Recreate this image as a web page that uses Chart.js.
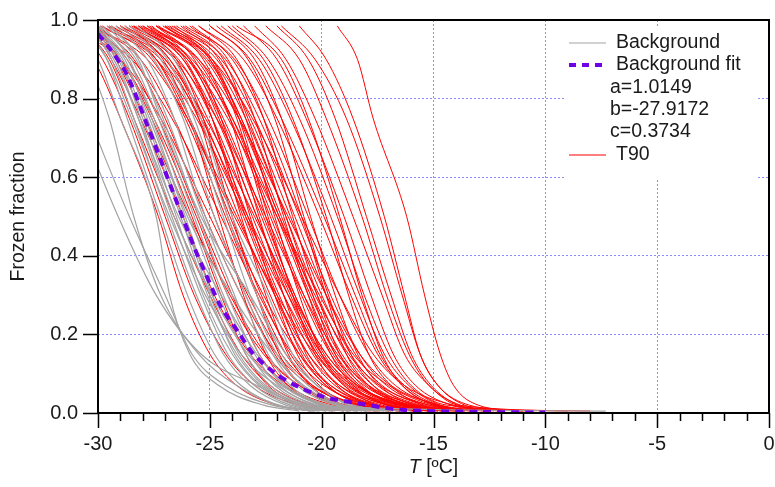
<!DOCTYPE html>
<html>
<head>
<meta charset="utf-8">
<script src="https://cdn.jsdelivr.net/npm/chart.js@4.4.1/dist/chart.umd.min.js"></script>
<style>
  html, body { margin: 0; padding: 0; background: #fff; }
  #wrap { width: 775px; height: 487px; }
</style>
</head>
<body>
<div id="wrap"><canvas id="frozen"></canvas></div>
<script>
'use strict';

// frozen fraction levels at which every curve's temperature was read
const fracLevels = [0.985, 0.9, 0.75, 0.5, 0.3, 0.15, 0.07, 0.02, 0.005];

// T90 samples (temperature in ºC at each level above)
const redCurves = [
    [-31.5, -30.2, -29.0, -27.3, -26.2, -25.0, -23.8, -22.0, -20.5],
    [-31.0, -29.8, -28.6, -27.0, -25.7, -24.3, -23.0, -21.0, -19.5],
    [-30.8, -29.5, -28.4, -26.6, -25.0, -23.6, -22.3, -20.5, -18.8],
    [-30.3, -29.4, -28.1, -26.2, -24.8, -23.2, -21.7, -19.8, -18.0],
    [-30.5, -29.0, -27.6, -25.8, -24.5, -23.4, -22.4, -20.8, -19.0],
    [-30.0, -29.2, -27.9, -25.9, -24.1, -22.5, -21.0, -19.2, -17.6],
    [-30.2, -28.7, -27.3, -25.5, -24.0, -22.8, -21.5, -19.5, -17.5],
    [-31.5, -29.0, -27.2, -25.0, -23.3, -21.8, -20.4, -18.2, -16.2],
    [-30.3, -28.1, -26.6, -24.8, -23.4, -22.1, -20.9, -19.0, -17.0],
    [-28.8, -27.1, -25.9, -24.6, -23.5, -22.5, -21.5, -20.0, -18.4],
    [-31.0, -28.5, -26.7, -24.5, -22.8, -21.3, -19.9, -17.7, -15.7],
    [-29.8, -27.6, -26.1, -24.3, -22.9, -21.6, -20.4, -18.5, -16.5],
    [-29.6, -27.4, -25.9, -24.1, -22.7, -21.4, -20.2, -18.3, -16.3],
    [-28.2, -26.5, -25.3, -24.0, -22.9, -21.9, -20.9, -19.4, -17.8],
    [-30.3, -27.8, -26.0, -23.8, -22.1, -20.6, -19.2, -17.0, -15.0],
    [-29.2, -27.0, -25.5, -23.7, -22.3, -21.0, -19.8, -17.9, -15.9],
    [-27.8, -26.1, -24.9, -23.6, -22.5, -21.5, -20.5, -19.0, -17.4],
    [-29.0, -26.8, -25.3, -23.5, -22.1, -20.8, -19.6, -17.7, -15.7],
    [-29.9, -27.4, -25.6, -23.4, -21.7, -20.2, -18.8, -16.6, -14.6],
    [-28.8, -26.6, -25.1, -23.3, -21.9, -20.6, -19.4, -17.5, -15.5],
    [-27.4, -25.7, -24.5, -23.2, -22.1, -21.1, -20.1, -18.6, -17.0],
    [-28.6, -26.4, -24.9, -23.1, -21.7, -20.4, -19.2, -17.3, -15.3],
    [-29.5, -27.0, -25.2, -23.0, -21.3, -19.8, -18.4, -16.2, -14.2],
    [-28.4, -26.2, -24.7, -22.9, -21.5, -20.2, -19.0, -17.1, -15.1],
    [-27.0, -25.3, -24.1, -22.8, -21.7, -20.7, -19.7, -18.2, -16.6],
    [-28.2, -26.0, -24.5, -22.7, -21.3, -20.0, -18.8, -16.9, -14.9],
    [-28.1, -25.9, -24.4, -22.6, -21.2, -19.9, -18.7, -16.8, -14.8],
    [-29.0, -26.5, -24.7, -22.5, -20.8, -19.3, -17.9, -15.7, -13.7],
    [-26.6, -24.9, -23.7, -22.4, -21.3, -20.3, -19.3, -17.8, -16.2],
    [-27.8, -25.6, -24.1, -22.3, -20.9, -19.6, -18.4, -16.5, -14.5],
    [-27.7, -25.5, -24.0, -22.2, -20.8, -19.5, -18.3, -16.4, -14.4],
    [-26.3, -24.6, -23.4, -22.1, -21.0, -20.0, -19.0, -17.5, -15.9],
    [-28.5, -26.0, -24.2, -22.0, -20.3, -18.8, -17.4, -15.2, -13.2],
    [-27.4, -25.2, -23.7, -21.9, -20.5, -19.2, -18.0, -16.1, -14.1],
    [-27.3, -25.1, -23.6, -21.8, -20.4, -19.1, -17.9, -16.0, -14.0],
    [-25.9, -24.2, -23.0, -21.7, -20.6, -19.6, -18.6, -17.1, -15.5],
    [-27.1, -24.9, -23.4, -21.6, -20.2, -18.9, -17.7, -15.8, -13.8],
    [-28.0, -25.5, -23.7, -21.5, -19.8, -18.3, -16.9, -14.7, -12.7],
    [-26.9, -24.7, -23.2, -21.4, -20.0, -18.7, -17.5, -15.6, -13.6],
    [-25.5, -23.8, -22.6, -21.3, -20.2, -19.2, -18.2, -16.7, -15.1],
    [-26.7, -24.5, -23.0, -21.2, -19.8, -18.5, -17.3, -15.4, -13.4],
    [-26.5, -24.3, -22.8, -21.0, -19.6, -18.3, -17.1, -15.2, -13.2],
    [-27.4, -24.9, -23.1, -20.9, -19.2, -17.7, -16.3, -14.1, -12.1],
    [-25.0, -23.3, -22.1, -20.8, -19.7, -18.7, -17.7, -16.2, -14.6],
    [-26.1, -23.9, -22.4, -20.6, -19.2, -17.9, -16.7, -14.8, -12.8],
    [-24.7, -23.0, -21.8, -20.5, -19.4, -18.4, -17.4, -15.9, -14.3],
    [-25.5, -23.5, -22.0, -20.1, -18.7, -17.5, -16.4, -15.0, -13.3],
    [-25.0, -23.2, -21.8, -19.9, -18.5, -17.4, -16.3, -14.8, -13.2],
    [-24.5, -22.8, -21.4, -19.6, -18.3, -17.2, -16.1, -14.7, -13.0],
    [-24.0, -22.4, -21.0, -19.3, -18.1, -17.0, -16.0, -14.4, -9.0],
    [-23.5, -22.0, -20.7, -19.0, -17.8, -16.8, -15.8, -14.2, -12.5],
    [-23.0, -21.6, -20.3, -18.6, -17.3, -16.3, -15.2, -13.9, -8.0],
    [-22.5, -21.0, -19.8, -18.2, -17.1, -16.1, -15.2, -13.8, -12.3],
    [-21.8, -20.3, -18.9, -17.4, -16.4, -15.6, -14.8, -13.4, -11.0],
    [-21.0, -19.8, -18.6, -17.2, -16.3, -15.6, -14.8, -13.6, -12.0],
    [-19.3, -18.4, -17.7, -16.2, -15.4, -14.7, -14.1, -13.0, -11.0],
    [-29.4, -27.2, -25.4, -23.3, -21.5, -20.0, -18.5, -16.3, -14.0],
    [-28.6, -26.8, -25.5, -24.2, -22.6, -21.0, -19.6, -17.6, -15.6],
    [-28.0, -25.8, -24.0, -22.0, -20.6, -19.4, -18.1, -16.0, -13.8],
    [-27.0, -25.0, -23.6, -21.9, -20.1, -18.6, -17.0, -15.0, -12.5],
    [-26.2, -24.4, -23.3, -21.6, -20.4, -19.4, -18.3, -16.5, -14.6],
    [-29.0, -27.4, -26.0, -23.9, -22.0, -20.3, -18.9, -17.0, -15.2],
    [-27.6, -25.9, -24.6, -22.9, -21.4, -20.1, -18.6, -16.4, -10.5],
    [-25.8, -24.0, -22.6, -20.9, -19.8, -18.9, -17.9, -16.4, -14.8],
    [-24.2, -22.6, -21.3, -19.8, -18.8, -17.9, -16.9, -15.5, -13.8],
    [-23.8, -21.8, -20.6, -19.2, -18.2, -17.3, -16.4, -14.9, -13.1],
    [-22.0, -20.6, -19.4, -18.0, -16.9, -16.0, -15.1, -13.9, -12.6],
    [-30.0, -28.4, -27.0, -25.2, -23.6, -22.0, -20.5, -18.4, -16.5],
    [-28.4, -26.2, -24.9, -23.4, -22.0, -20.9, -19.8, -18.0, -16.2],
    [-26.8, -25.0, -23.8, -22.5, -21.2, -19.8, -18.4, -16.2, -13.6],
    [-31.0, -29.0, -27.5, -25.6, -24.2, -22.6, -21.0, -18.9, -16.9]
];

// Background samples
const grayCurves = [
    [-33.0, -32.0, -30.9, -29.1, -27.4, -25.4, -22.9, -21.0, -19.8],
    [-32.5, -31.5, -30.4, -28.6, -27.0, -25.8, -24.3, -22.2, -20.5],
    [-31.0, -30.0, -29.0, -27.4, -26.8, -25.9, -24.6, -22.6, -21.0],
    [-30.6, -29.6, -28.7, -27.2, -26.0, -24.8, -23.6, -21.9, -20.3],
    [-30.4, -29.4, -28.4, -26.9, -25.6, -24.4, -23.2, -21.6, -20.1],
    [-30.3, -29.2, -28.2, -26.7, -25.4, -24.2, -23.0, -21.4, -19.8],
    [-30.2, -29.1, -28.0, -26.5, -25.3, -24.0, -22.8, -21.2, -19.6],
    [-30.1, -29.0, -27.9, -26.3, -25.1, -23.8, -22.6, -21.0, -19.4],
    [-30.0, -28.9, -27.7, -26.1, -24.9, -23.7, -22.5, -20.8, -19.0],
    [-30.0, -28.7, -27.5, -25.9, -24.6, -23.4, -22.3, -20.6, -18.8],
    [-29.8, -28.5, -27.3, -25.7, -24.4, -23.2, -22.1, -20.4, -18.5],
    [-29.6, -28.3, -27.1, -25.5, -24.2, -23.0, -21.9, -20.2, -18.2],
    [-29.4, -28.1, -26.9, -25.3, -23.9, -22.8, -21.7, -20.0, -18.0],
    [-29.2, -27.8, -26.6, -25.2, -23.6, -22.4, -21.4, -19.7, -17.6],
    [-29.0, -27.5, -26.2, -24.8, -23.4, -22.2, -21.1, -19.4, -17.2],
    [-28.8, -27.2, -25.9, -24.4, -23.2, -22.0, -20.9, -19.2, -16.8],
    [-28.6, -26.9, -25.7, -24.2, -22.9, -21.8, -20.6, -19.0, -16.5],
    [-28.3, -26.6, -25.4, -24.0, -22.4, -21.3, -20.2, -18.6, -16.0],
    [-30.5, -29.3, -28.2, -26.4, -24.5, -22.9, -21.6, -20.0, -18.4],
    [-30.8, -29.6, -28.5, -26.8, -25.2, -23.6, -22.0, -20.3, -18.7],
    [-30.2, -29.0, -28.1, -26.6, -24.9, -23.3, -21.8, -19.8, -17.9],
    [-29.9, -28.6, -27.6, -26.0, -24.0, -22.2, -20.8, -19.2, -17.5],
    [-30.4, -28.8, -27.8, -26.2, -25.0, -23.9, -22.7, -20.4, -7.3],
    [-31.5, -30.5, -29.5, -28.4, -27.2, -25.5, -23.8, -22.0, -20.4],
    [-29.5, -28.2, -27.2, -25.4, -23.2, -21.6, -20.2, -18.8, -17.0]
];

// Background fit curve
const fitT = [-30, -29.5, -28.7, -27.8, -26.6, -25.7, -25.2, -24.5, -23.7, -23.1, -22.1, -21.2, -19.9, -18.4, -16.4, -13, -10];
const fitF = [0.965, 0.93, 0.86, 0.733, 0.555, 0.422, 0.356, 0.27, 0.204, 0.153, 0.102, 0.071, 0.041, 0.025, 0.008, 0.003, 0.001];

const xTicks = [-30, -25, -20, -15, -10, -5, 0];
const yTicks = [0, 0.2, 0.4, 0.6, 0.8, 1.0];
const fitParams = ['a=1.0149', 'b=-27.9172', 'c=0.3734'];

const FONT = '"Liberation Sans", Arial, sans-serif';

function toPoints(temps) {
    return temps.map((t, i) => ({ x: t, y: fracLevels[i] }));
}

const datasets = [];
datasets.push({
    label: 'Background fit',
    data: fitT.map((t, i) => ({ x: t, y: fitF[i] })),
    borderColor: '#7000e6',
    borderWidth: 4,
    borderDash: [8, 6],
    pointRadius: 0,
    tension: 0.3
});
grayCurves.forEach(c => datasets.push({
    label: 'Background',
    data: toPoints(c),
    borderColor: '#a3a3a3',
    borderWidth: 1.2,
    pointRadius: 0,
    cubicInterpolationMode: 'monotone'
}));
redCurves.forEach(c => datasets.push({
    label: 'T90',
    data: toPoints(c),
    borderColor: '#ff0000',
    borderWidth: 1,
    pointRadius: 0,
    cubicInterpolationMode: 'monotone'
}));

const frame = {
    id: 'frame',
    afterDraw(chart) {
        const ctx = chart.ctx;
        const a = chart.chartArea;
        const xs = chart.scales.x, ys = chart.scales.y;
        ctx.save();
        ctx.strokeStyle = '#000';
        ctx.lineWidth = 2;
        ctx.strokeRect(a.left, a.top, a.right - a.left, a.bottom - a.top);

        ctx.lineWidth = 1.5;
        ctx.beginPath();
        for (let v = -30; v <= 0; v++) {
            const px = Math.round(xs.getPixelForValue(v)) + 0.5;
            const len = v % 5 === 0 ? 15 : 8;
            ctx.moveTo(px, a.bottom);
            ctx.lineTo(px, a.bottom + len);
        }
        yTicks.forEach(v => {
            const py = Math.round(ys.getPixelForValue(v)) + 0.5;
            ctx.moveTo(a.left - 15, py);
            ctx.lineTo(a.left, py);
        });
        ctx.stroke();

        // axis titles
        ctx.fillStyle = '#1a1a1a';
        ctx.textBaseline = 'middle';
        ctx.save();
        ctx.translate(19, (a.top + a.bottom) / 2);
        ctx.rotate(-Math.PI / 2);
        ctx.textAlign = 'center';
        ctx.font = '19.5px ' + FONT;
        ctx.fillText('Frozen fraction', 0, 0);
        ctx.restore();

        ctx.font = 'italic 19.5px ' + FONT;
        const tW = ctx.measureText('T').width;
        ctx.font = '19.5px ' + FONT;
        const rest = ' [ºC]';
        const rW = ctx.measureText(rest).width;
        const cx = (a.left + a.right) / 2;
        const sx = cx - (tW + rW) / 2;
        ctx.textAlign = 'left';
        ctx.font = 'italic 19.5px ' + FONT;
        ctx.fillText('T', sx, 468);
        ctx.font = '19.5px ' + FONT;
        ctx.fillText(rest, sx + tW, 468);

        // legend
        ctx.fillStyle = '#fff';
        ctx.fillRect(565, 26, 192, 152);
        ctx.fillStyle = '#1a1a1a';
        ctx.font = '19.5px ' + FONT;
        ctx.textAlign = 'left';

        ctx.strokeStyle = '#a3a3a3';
        ctx.lineWidth = 1.2;
        ctx.beginPath();
        ctx.moveTo(569, 43); ctx.lineTo(606, 43);
        ctx.stroke();
        ctx.fillText('Background', 616, 43);

        ctx.strokeStyle = '#7000e6';
        ctx.lineWidth = 4;
        ctx.setLineDash([7, 6]);
        ctx.beginPath();
        ctx.moveTo(569, 65); ctx.lineTo(607, 65);
        ctx.stroke();
        ctx.setLineDash([]);
        ctx.fillText('Background fit', 616, 65);

        fitParams.forEach((s, i) => ctx.fillText(s, 610, 88 + i * 22));

        ctx.strokeStyle = '#ff0000';
        ctx.lineWidth = 1.2;
        ctx.beginPath();
        ctx.moveTo(569, 155); ctx.lineTo(606, 155);
        ctx.stroke();
        ctx.fillText('T90', 616, 155);
        ctx.restore();
    }
};

const gridColor = (edge) => (c) => {
    const v = c.tick ? c.tick.value : null;
    return (v === edge[0] || v === edge[1]) ? 'rgba(0,0,0,0)' : '#8c8cff';
};

new Chart(document.getElementById('frozen'), {
    type: 'line',
    data: { datasets: datasets },
    options: {
        responsive: true,
        maintainAspectRatio: false,
        animation: false,
        events: [],
        layout: { padding: { top: 20, right: 6, left: 0, bottom: 0 } },
        plugins: { legend: { display: false }, tooltip: { enabled: false } },
        scales: {
            x: {
                type: 'linear',
                min: -30,
                max: 0,
                afterBuildTicks: s => { s.ticks = xTicks.map(v => ({ value: v })); },
                afterFit: s => { s.height = 74; s.paddingRight = 0; s.paddingLeft = 0; },
                border: { display: false, dash: [2, 2] },
                grid: { drawTicks: false, color: gridColor([-30, 0]), lineWidth: 1 },
                ticks: {
                    padding: 19,
                    color: '#1a1a1a',
                    font: { family: FONT, size: 20 },
                    maxRotation: 0,
                    callback: v => String(v)
                }
            },
            y: {
                min: 0,
                max: 1,
                afterBuildTicks: s => { s.ticks = yTicks.map(v => ({ value: v })); },
                afterFit: s => { s.width = 98; s.paddingTop = 0; s.paddingBottom = 0; },
                border: { display: false, dash: [2, 2] },
                grid: { drawTicks: false, color: gridColor([0, 1]), lineWidth: 1 },
                ticks: {
                    padding: 20,
                    color: '#1a1a1a',
                    font: { family: FONT, size: 20 },
                    callback: v => Number(v).toFixed(1)
                }
            }
        }
    },
    plugins: [frame]
});
</script>
</body>
</html>
